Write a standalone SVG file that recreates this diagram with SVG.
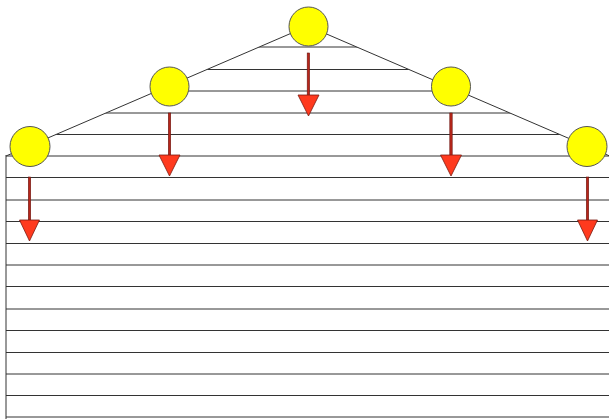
<svg xmlns="http://www.w3.org/2000/svg" width="609" height="419" viewBox="0 0 609 419">
  <defs>
    <clipPath id="house">
      <polygon points="6,156 308,26 612,157 612,421 6,421"/>
    </clipPath>
    <style>
      .hl { stroke: #333333; stroke-width: 1; fill: none; }
      .wall { stroke: #333333; stroke-width: 1; fill: none; }
      .roof { stroke: #333333; stroke-width: 1; fill: none; }
      .node { fill: #FFFF00; stroke: #555555; stroke-width: 1; }
      .shaft { fill: #B8261A; stroke: #6A1510; stroke-width: 0.6; }
      .head { fill: #FF3A1E; stroke: #7A1A10; stroke-width: 0.8; }
    </style>
  </defs>
  <rect x="0" y="0" width="609" height="419" fill="#FFFFFF"/>

  <g id="siding" clip-path="url(#house)">
    <line class="hl" x1="0" y1="47" x2="612" y2="47"/>
    <line class="hl" x1="0" y1="69.5" x2="612" y2="69.5"/>
    <line class="hl" x1="0" y1="91" x2="612" y2="91"/>
    <line class="hl" x1="0" y1="113" x2="612" y2="113"/>
    <line class="hl" x1="0" y1="134.5" x2="612" y2="134.5"/>
    <line class="hl" x1="0" y1="156" x2="612" y2="156"/>
    <line class="hl" x1="0" y1="177.5" x2="612" y2="177.5"/>
    <line class="hl" x1="0" y1="200" x2="612" y2="200"/>
    <line class="hl" x1="0" y1="221.5" x2="612" y2="221.5"/>
    <line class="hl" x1="0" y1="243.5" x2="612" y2="243.5"/>
    <line class="hl" x1="0" y1="265" x2="612" y2="265"/>
    <line class="hl" x1="0" y1="286.5" x2="612" y2="286.5"/>
    <line class="hl" x1="0" y1="309" x2="612" y2="309"/>
    <line class="hl" x1="0" y1="330.5" x2="612" y2="330.5"/>
    <line class="hl" x1="0" y1="352.5" x2="612" y2="352.5"/>
    <line class="hl" x1="0" y1="374" x2="612" y2="374"/>
    <line class="hl" x1="0" y1="395.5" x2="612" y2="395.5"/>
    <line class="hl" x1="0" y1="417" x2="612" y2="417"/>
  </g>
  <line class="wall" x1="6" y1="155" x2="6" y2="419"/>
  <polyline class="roof" points="6,156 308,26 612,157"/>

  <g id="connectors">
    <g id="arrow-top">
      <rect class="shaft" x="307.2" y="53" width="2.4" height="43"/>
      <polygon class="head" points="298,95 319,95 308.5,116"/>
    </g>
    <g id="arrow-left-mid">
      <rect class="shaft" x="168.3" y="113" width="2.4" height="43"/>
      <polygon class="head" points="159,155 180,155 169.5,176"/>
    </g>
    <g id="arrow-right-mid">
      <rect class="shaft" x="449.8" y="113" width="2.4" height="43"/>
      <polygon class="head" points="440.5,155 461.5,155 451,176"/>
    </g>
    <g id="arrow-left">
      <rect class="shaft" x="28.3" y="177" width="2.4" height="44"/>
      <polygon class="head" points="19.5,220 39.5,220 29.5,241"/>
    </g>
    <g id="arrow-right">
      <rect class="shaft" x="586.3" y="177" width="2.4" height="44"/>
      <polygon class="head" points="577.5,220 597.5,220 587.5,241"/>
    </g>
  </g>

  <g id="node-top"><circle class="node" cx="308.5" cy="26.5" r="19.5"/></g>
  <g id="node-left-mid"><circle class="node" cx="169.5" cy="86.5" r="19.5"/></g>
  <g id="node-right-mid"><circle class="node" cx="451" cy="86.5" r="19.5"/></g>
  <g id="node-left"><circle class="node" cx="30" cy="146.5" r="20"/></g>
  <g id="node-right"><circle class="node" cx="587" cy="146.5" r="20"/></g>
</svg>
